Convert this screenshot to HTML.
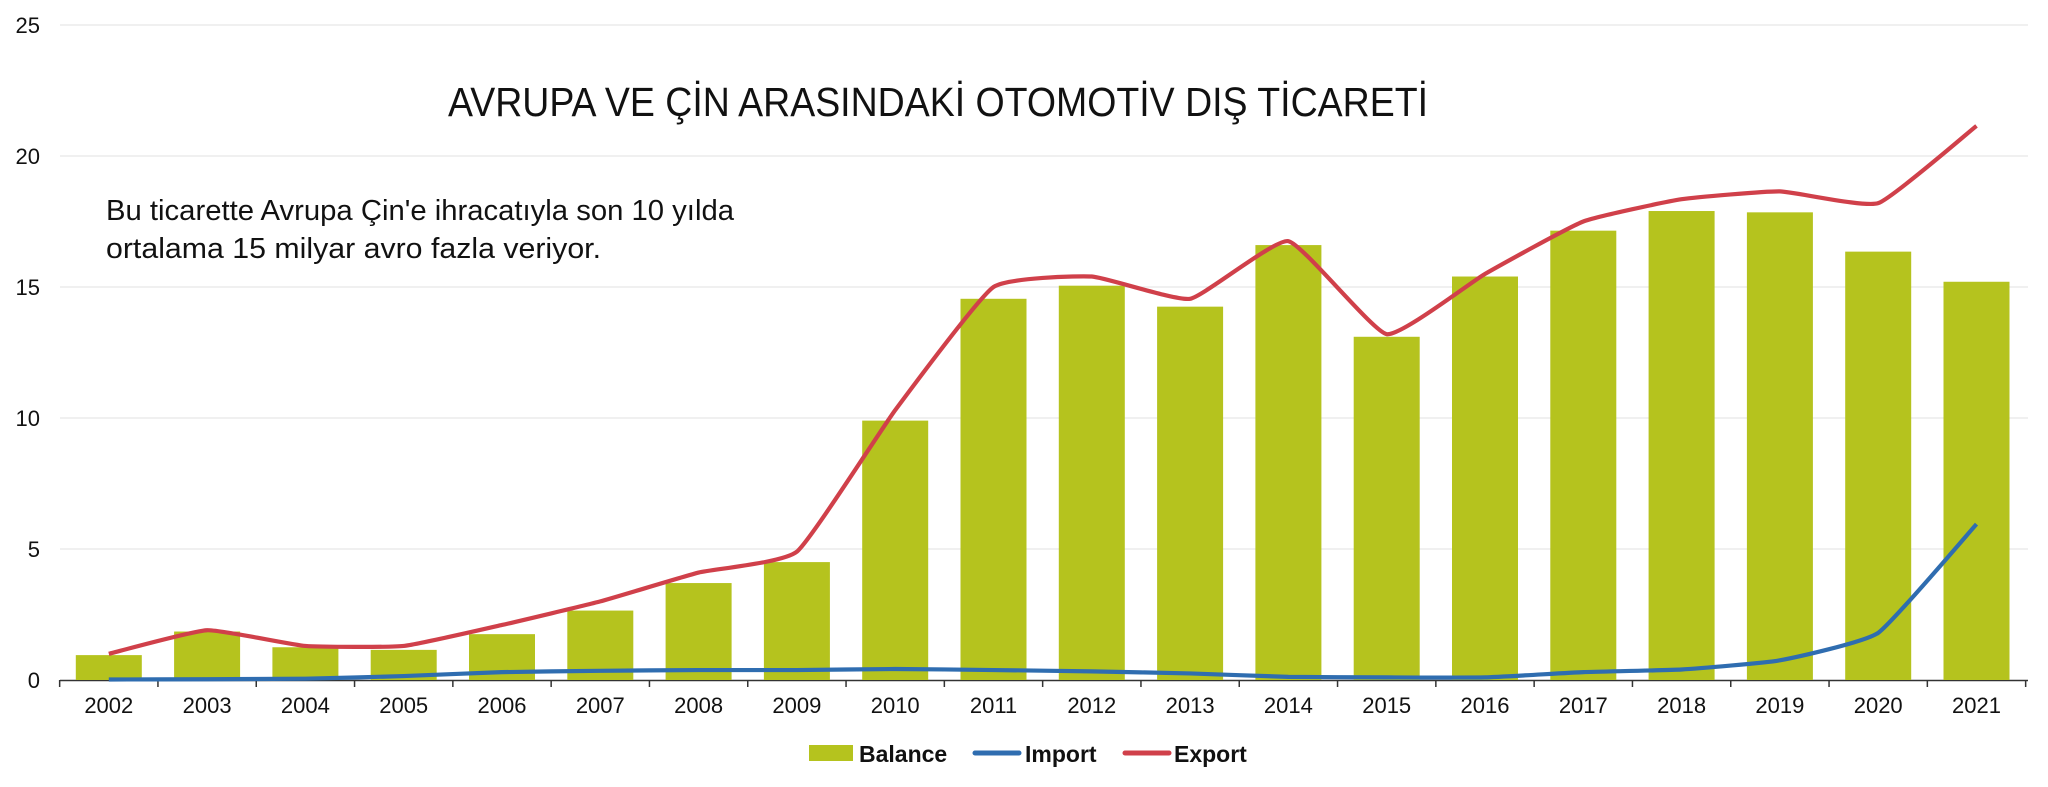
<!DOCTYPE html>
<html><head><meta charset="utf-8"><style>
html,body{margin:0;padding:0;background:#fff;}
svg{display:block;font-family:"Liberation Sans",Arial,sans-serif;}
</style></head><body>
<svg id="c" width="2048" height="787" viewBox="0 0 2048 787" xmlns="http://www.w3.org/2000/svg">
<g id="grid"></g>
<g id="bars"></g>
<g id="lines"></g>
<text x="938" y="116" font-size="41" text-anchor="middle" fill="#111" textLength="980" lengthAdjust="spacingAndGlyphs">AVRUPA VE ÇİN ARASINDAKİ OTOMOTİV DIŞ TİCARETİ</text>
<text x="106" y="220" font-size="29" fill="#111" textLength="628" lengthAdjust="spacingAndGlyphs">Bu ticarette Avrupa Çin'e ihracatıyla son 10 yılda</text>
<text x="106" y="258" font-size="29" fill="#111" textLength="495" lengthAdjust="spacingAndGlyphs">ortalama 15 milyar avro fazla veriyor.</text>
<rect x="809" y="745" width="44" height="16" fill="#b5c31e"/>
<text x="859" y="762" font-size="23" font-weight="bold" fill="#111">Balance</text>
<line x1="975" y1="753" x2="1019" y2="753" stroke="#2f6db0" stroke-width="5" stroke-linecap="round"/>
<text x="1025" y="762" font-size="23" font-weight="bold" fill="#111">Import</text>
<line x1="1125" y1="753" x2="1169" y2="753" stroke="#d0404a" stroke-width="5" stroke-linecap="round"/>
<text x="1174" y="762" font-size="23" font-weight="bold" fill="#111">Export</text>
</svg>
<script>
const NS="http://www.w3.org/2000/svg";
const y0=680,pu=26.2,cx0=108.8,sp=98.3;
const Y=v=>y0-v*pu, X=i=>cx0+i*sp;
function el(p,t,a,txt){const e=document.createElementNS(NS,t);for(const k in a)e.setAttribute(k,a[k]);if(txt!==undefined)e.textContent=txt;p.appendChild(e);return e;}
const g=document.getElementById('grid'),b=document.getElementById('bars'),l=document.getElementById('lines');
for(let v=0;v<=25;v+=5){ if(v>0) el(g,'line',{x1:60,x2:2028,y1:Y(v),y2:Y(v),stroke:'#e6e6e6','stroke-width':1.3});
 el(g,'text',{x:40,y:Y(v)+8,'font-size':22,'text-anchor':'end',fill:'#111'},String(v));}
const bal=[0.95,1.85,1.25,1.15,1.75,2.65,3.7,4.5,9.9,14.55,15.05,14.25,16.6,13.1,15.4,17.15,17.9,17.85,16.35,15.2];
const exp=[1.0,1.9,1.3,1.3,2.1,3.0,4.1,4.9,10.3,15.0,15.4,14.55,16.75,13.2,15.5,17.5,18.35,18.65,18.2,21.15];
const imp=[0.02,0.03,0.05,0.15,0.3,0.35,0.38,0.38,0.42,0.38,0.33,0.25,0.12,0.1,0.1,0.3,0.4,0.75,1.8,5.95];
bal.forEach((v,i)=>{el(b,'rect',{x:X(i)-33,y:Y(v),width:66,height:v*pu,fill:'#b5c31e'});
 el(g,'text',{x:X(i),y:713,'font-size':22,'text-anchor':'middle',fill:'#111'},String(2002+i));});
el(g,'line',{x1:60,x2:2028,y1:680.5,y2:680.5,stroke:'#333','stroke-width':1.5});
for(let i=0;i<=20;i++){const x=X(i)-sp/2;el(g,'line',{x1:x,x2:x,y1:680,y2:687,stroke:'#333','stroke-width':1.5});}
function path(d){const p=d.map((v,i)=>[X(i),Y(v)]);let s=`M${p[0][0]},${p[0][1]}`;const t=0.07;
 for(let i=0;i<p.length-1;i++){const a=p[i-1]||p[i],c=p[i+1],n=p[i+2]||c,q=p[i];
  s+=` C${q[0]+(c[0]-a[0])*t},${q[1]+(c[1]-a[1])*t} ${c[0]-(n[0]-q[0])*t},${c[1]-(n[1]-q[1])*t} ${c[0]},${c[1]}`;}return s;}
el(l,'path',{d:path(imp),fill:'none',stroke:'#2f6db0','stroke-width':4.2,'stroke-linejoin':'round'});
el(l,'path',{d:path(exp),fill:'none',stroke:'#d0404a','stroke-width':4.2,'stroke-linejoin':'round'});
</script>
</body></html>
